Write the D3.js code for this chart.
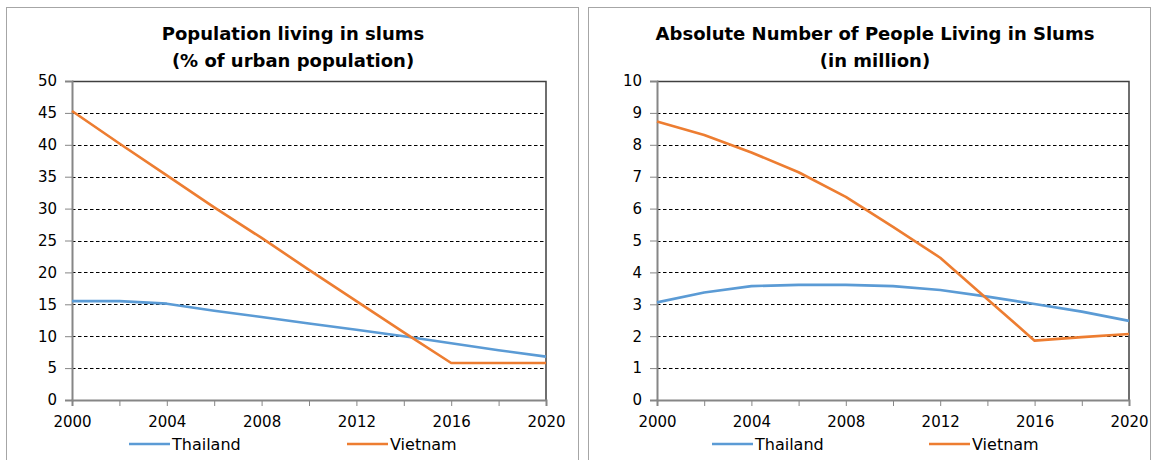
<!DOCTYPE html>
<html>
<head>
<meta charset="utf-8">
<script src="https://cdn.jsdelivr.net/npm/d3@7"></script>
<style>
  html, body { margin: 0; padding: 0; background: #fff; }
  svg { display: block; }
  text { font-family: "DejaVu Sans", Verdana, sans-serif; fill: #000; }
</style>
</head>
<body>
<svg id="chart" width="1153" height="460"></svg>
<script>
// Survey years shared by both panels
const years = [2000, 2002, 2004, 2006, 2008, 2010, 2012, 2014, 2016, 2018, 2020];

// Slum population as % of urban population
const thailandPct = [15.5, 15.5, 15.1, 14.0, 13.0, 12.0, 11.0, 10.0, 8.9, 7.8, 6.8];
const vietnamPct  = [45.3, 40.2, 35.2, 30.2, 25.4, 20.4, 15.5, 10.6, 5.8, 5.8, 5.8];

// Absolute number of slum dwellers, millions
const thailandAbs = [3.06, 3.37, 3.57, 3.61, 3.61, 3.57, 3.45, 3.24, 3.01, 2.77, 2.48];
const vietnamAbs  = [8.73, 8.31, 7.76, 7.14, 6.37, 5.43, 4.46, 3.16, 1.86, 1.97, 2.07];

const seriesNames = ["Thailand", "Vietnam"];
const seriesColors = ["#5B9BD5", "#ED7D31"];

const xTickLabels = [2000, 2004, 2008, 2012, 2016, 2020];
const yTicksPct = [0, 5, 10, 15, 20, 25, 30, 35, 40, 45, 50];
const yTicksAbs = [0, 1, 2, 3, 4, 5, 6, 7, 8, 9, 10];

const titlesPct = ["Population living in slums", "(% of urban population)"];
const titlesAbs = ["Absolute Number of People Living in Slums", "(in million)"];

const svg = d3.select("#chart");

function drawPanel(cfg) {
  const g = svg.append("g");

  // outer chart frame
  g.append("rect")
    .attr("x", cfg.frame[0]).attr("y", cfg.frame[1])
    .attr("width", cfg.frame[2]).attr("height", cfg.frame[3])
    .attr("fill", "#fff").attr("stroke", "#a6a6a6").attr("stroke-width", 1);

  const x = d3.scaleLinear().domain([2000, 2020]).range([cfg.left, cfg.right]);
  const y = d3.scaleLinear().domain([0, cfg.yMax]).range([cfg.bottom, cfg.top]);

  // two-line bold title
  cfg.title.forEach((t, i) => {
    g.append("text")
      .attr("x", cfg.titleX).attr("y", 39.5 + i * 27)
      .attr("text-anchor", "middle")
      .attr("font-size", 18).attr("font-weight", "bold")
      .text(t);
  });

  // dashed horizontal gridlines
  g.append("g")
    .selectAll("line")
    .data(cfg.yTicks.filter(d => d > 0))
    .join("line")
    .attr("x1", cfg.left).attr("x2", cfg.right)
    .attr("y1", d => Math.round(y(d)) + 0.5).attr("y2", d => Math.round(y(d)) + 0.5)
    .attr("stroke", "#000").attr("stroke-width", 1)
    .attr("stroke-dasharray", "3.5,2.5");

  // plot area border (top and right)
  g.append("path")
    .attr("d", `M${cfg.left},${Math.round(y(cfg.yMax)) + 0.5}H${cfg.right}V${cfg.bottom}`)
    .attr("fill", "none").attr("stroke", "#404040").attr("stroke-width", 1.5);

  // y axis
  const yAxis = d3.axisLeft(y).tickValues(cfg.yTicks).tickSize(7).tickPadding(8).tickFormat(d3.format("d"));
  const ya = g.append("g").attr("transform", `translate(${cfg.left},0)`).call(yAxis);
  ya.select(".domain").attr("stroke", "#868686").attr("stroke-width", 2);
  ya.selectAll(".tick line").attr("stroke", "#868686").attr("stroke-width", 1);
  ya.selectAll(".tick text").attr("font-size", 15).attr("font-family", "DejaVu Sans").attr("fill", "#000");

  // x axis: minor ticks every 2 years, labels every 4 years
  const xAxis = d3.axisBottom(x).tickValues(years).tickSize(6).tickPadding(10)
    .tickFormat(d => xTickLabels.includes(d) ? d : "");
  const xa = g.append("g").attr("transform", `translate(0,${cfg.bottom})`).call(xAxis);
  xa.select(".domain").attr("stroke", "#868686").attr("stroke-width", 2);
  xa.selectAll(".tick line").attr("stroke", "#868686").attr("stroke-width", 1);
  xa.selectAll(".tick text").attr("font-size", 15).attr("font-family", "DejaVu Sans").attr("fill", "#000");

  // series lines
  const line = d3.line().x((d, i) => x(years[i])).y(d => y(d));
  cfg.series.forEach((vals, k) => {
    g.append("path")
      .datum(vals)
      .attr("d", line)
      .attr("fill", "none")
      .attr("stroke", seriesColors[k])
      .attr("stroke-width", 2.6)
      .attr("stroke-linejoin", "round");
  });

  // legend
  cfg.legendX.forEach((lx, k) => {
    g.append("line")
      .attr("x1", lx).attr("x2", lx + 41)
      .attr("y1", 444).attr("y2", 444)
      .attr("stroke", seriesColors[k]).attr("stroke-width", 2.6);
    g.append("text")
      .attr("x", lx + 43).attr("y", 444)
      .attr("dy", "0.36em")
      .attr("font-size", 16)
      .text(seriesNames[k]);
  });
}

drawPanel({
  frame: [6.5, 7.5, 572, 470],
  left: 72, right: 546, top: 81, bottom: 400,
  yMax: 50, yTicks: yTicksPct,
  title: titlesPct, titleX: 293,
  series: [thailandPct, vietnamPct],
  legendX: [129, 347]
});

drawPanel({
  frame: [588.5, 7.5, 562, 470],
  left: 657, right: 1129, top: 81, bottom: 400,
  yMax: 10, yTicks: yTicksAbs,
  title: titlesAbs, titleX: 875,
  series: [thailandAbs, vietnamAbs],
  legendX: [712, 929]
});
</script>
</body>
</html>
